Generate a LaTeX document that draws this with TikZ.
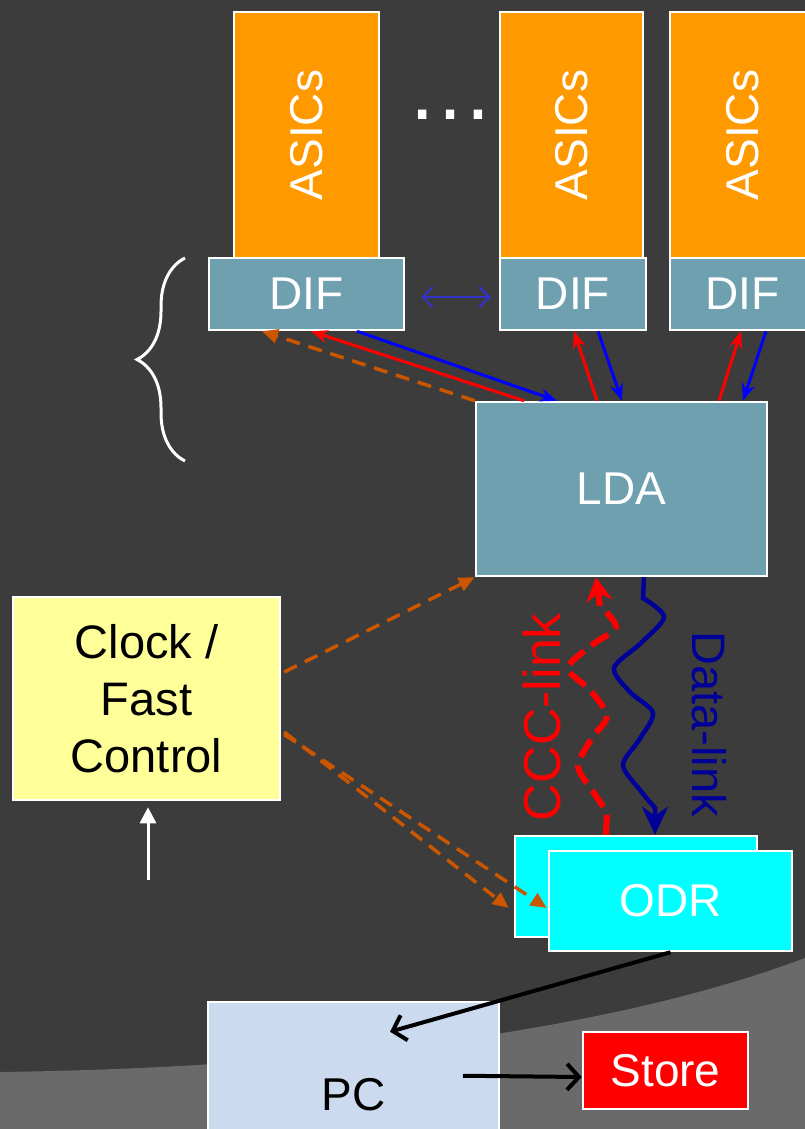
\documentclass[tikz,border=0pt]{standalone}
\usepackage{fontspec}
\setmainfont{Liberation Sans}
\usetikzlibrary{arrows.meta,calc,decorations.pathreplacing}
\definecolor{bgDark}{HTML}{3C3C3C}
\definecolor{bgFloor}{HTML}{6A6A6A}
\definecolor{asicOrange}{HTML}{FF9900}
\definecolor{difTeal}{HTML}{6FA0B0}
\definecolor{clkYellow}{HTML}{FFFF99}
\definecolor{pcBlue}{HTML}{CCDAF0}
\definecolor{odrCyan}{HTML}{00FFFF}
\definecolor{fcOrange}{HTML}{CC5500}
\definecolor{dataBlue}{HTML}{000099}
\definecolor{pairBlue}{HTML}{3333CC}
\begin{document}
\begin{tikzpicture}[x=1pt,y=-1pt,
    daqBox/.style={draw=white,line width=2.5pt,inner sep=0pt,font=\fontsize{46}{56}\selectfont},
    daqAsic/.style={daqBox,fill=asicOrange,text=white,rotate=90,minimum width=246pt},
    daqDif/.style={daqBox,fill=difTeal,text=white,minimum height=72pt},
    daqUp/.style={-{Stealth[length=17pt,width=13pt]},line width=3pt,red},
    daqDown/.style={-{Stealth[length=17pt,width=13pt]},line width=3pt,blue},
    daqFast/.style={-{Triangle[length=16pt,width=14pt]},line width=3.5pt,fcOrange,dash pattern=on 14pt off 9pt},
    daqOut/.style={-{Straight Barb[length=12pt,width=26pt]},line width=4pt,black},
]
% background
\fill[bgDark] (0,0) rectangle (805,1129);
\fill[bgFloor] (0,1072) .. controls (300,1068) and (600,1035) .. (805,958) -- (805,1129) -- (0,1129) -- cycle;
\useasboundingbox (0,0) rectangle (805,1129);
\draw[white,line width=3pt,decorate,decoration={brace,amplitude=48pt}] (185,461) -- (185,258);
% front-end
\node[daqAsic,minimum height=145pt] (asicA) at (306.5,135) {ASICs};
\node[daqAsic,minimum height=143pt] (asicB) at (571.5,135) {ASICs};
\node[daqAsic,minimum height=145pt] (asicC) at (742.5,135) {ASICs};
\node[text=white,inner sep=0pt,font=\fontsize{88}{90}\selectfont] (more) at (450,115) {…};
\node[daqDif,minimum width=195pt] (difA) at (306.5,294) {DIF};
\node[daqDif,minimum width=146pt] (difB) at (573,294) {DIF};
\node[daqDif,minimum width=145pt] (difC) at (742.5,294) {DIF};
\node[daqBox,fill=difTeal,text=white,minimum width=291pt,minimum height=174pt] (lda) at (621.5,489) {LDA};
\node[daqBox,fill=clkYellow,text=black,minimum width=267pt,minimum height=203pt,align=center,font=\fontsize{47}{57}\selectfont] (clk) at (146.5,698.5) {Clock /\\Fast\\Control};
\node[daqBox,fill=odrCyan,minimum width=242pt,minimum height=101pt] (odrBack) at (636,886.5) {};
\node[daqBox,fill=odrCyan,text=white,minimum width=243pt,minimum height=100pt] (odr) at (670.5,901) {ODR};
\node[daqBox,fill=pcBlue,text=black,minimum width=291pt,minimum height=186pt] (pc) at (353.5,1095) {PC};
\node[daqBox,fill=red,text=white,minimum width=165pt,minimum height=77pt] (store) at (665.5,1070.5) {Store};
% DIF <-> LDA
\draw[daqFast] (lda.north west) -- ($(difA.south)+(-44.5,0)$);
\draw[daqUp] ($(lda.north)+(-97.5,0)$) -- ($(difA.south)+(4.5,0)$);
\draw[daqDown] ($(difA.south)+(50.5,0)$) -- ($(lda.north)+(-64.5,0)$);
\draw[daqUp] ($(lda.north)+(-24.5,0)$) -- ($(difB.south)+(1,0)$);
\draw[daqDown] ($(difB.south)+(25,0)$) -- ($(lda.north)+(0.5,0)$);
\draw[daqUp] ($(lda.north)+(97.5,0)$) -- ($(difC.south)+(-1.5,0)$);
\draw[daqDown] ($(difC.south)+(23.5,0)$) -- ($(lda.north)+(121.5,0)$);
\draw[pairBlue,line width=2pt,{Straight Barb[length=10pt,width=20pt]}-{Straight Barb[length=10pt,width=20pt]},shorten <=16pt,shorten >=8pt] ($(difA.east)+(0,3)$) -- ($(difB.west)+(0,3)$);
% fast control
\draw[daqFast] ($(clk.east)+(3,-26.5)$) -- (lda.south west);
\draw[daqFast] ($(clk.east)+(3,33.5)$) -- ($(odrBack.west)+(-5,21.5)$);
\draw[daqFast] ($(clk.east)+(3,36)$) -- ($(odr.west)+(-1,7)$);
\coordinate (trig) at (148,880);
\draw[white,line width=3pt,-{Triangle[length=16pt,width=16pt]},shorten >=6pt] (trig) -- (clk.south -| trig);
% links
\draw[red,line width=6pt,dash pattern=on 20pt off 9pt,-{Stealth[length=24pt,width=26pt,inset=8pt]}] ($(odrBack.north)+(-30,0)$) -- plot[smooth] coordinates {(607,812) (592,790) (578,766) (592,738) (607,716) (590,690) (568,668) (592,645) (616,627) (600,606)} -- ($(lda.south)+(-25.5,0)$);
\draw[dataBlue,line width=4.5pt,-{Stealth[length=28pt,width=26pt,inset=9pt]}] ($(lda.south)+(22.5,0)$) -- plot[smooth] coordinates {(643,598) (664,617) (641,643) (614,668) (630,692) (653,713) (639,740) (623,765) (640,790) (655,808)} -- ($(odrBack.north)+(19,0)$);
\node[rotate=90,text=red,inner sep=0pt,font=\fontsize{52}{60}\selectfont] (cccLbl) at (542,717) {CCC-link};
\node[rotate=-90,text=dataBlue,inner sep=0pt,font=\fontsize{47}{56}\selectfont] (dataLbl) at (709,724) {Data-link};
% readout
\draw[daqOut] (odr.south) -- ($(pc.north)+(36.5,31)$);
\draw[daqOut] ($(pc.north)+(109.5,75)$) -- ($(store.west)+(0,6.5)$);
\end{tikzpicture}
\end{document}
